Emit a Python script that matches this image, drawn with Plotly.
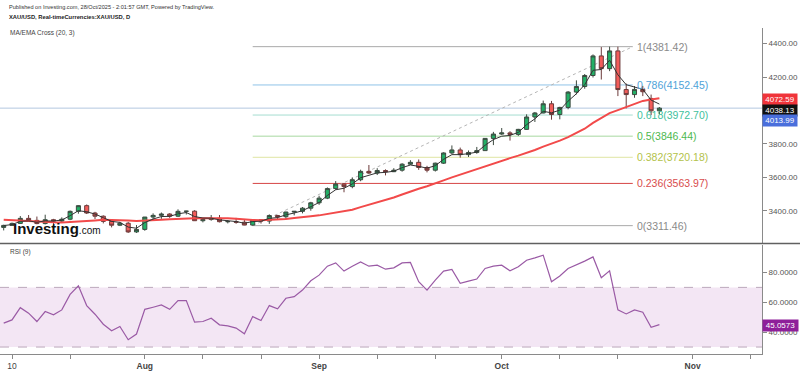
import pandas as pd
import plotly.graph_objects as go

# ---------------- data ----------------
dates = [d.strftime("%Y-%m-%d") for d in pd.bdate_range("2025-07-09", "2025-10-28")]

opens = [3301, 3313, 3325, 3355, 3343, 3324, 3347, 3339, 3350, 3397, 3431, 3387, 3368, 3337, 3314, 3326, 3274,
         3289, 3363, 3373, 3381, 3368, 3397, 3398, 3341, 3348, 3356, 3335, 3336, 3332, 3315, 3347, 3339, 3372, 3365,
         3393, 3397, 3416,
         3448, 3476, 3533, 3560, 3545, 3586, 3636, 3626, 3641, 3634, 3643, 3679, 3690, 3659, 3643, 3685, 3746, 3764,
         3736, 3749, 3760, 3833,
         3859, 3866, 3857, 3887, 3961, 3985, 4040, 3976, 4018, 4110, 4143, 4209, 4326, 4250, 4356, 4125, 4095, 4126,
         4072, 3998]
highs = [3317, 3330, 3369, 3375, 3366, 3377, 3352, 3361, 3402, 3433, 3438, 3394, 3373, 3345, 3334, 3334, 3315,
         3363, 3385, 3390, 3386, 3409, 3400, 3404, 3358, 3375, 3375, 3345, 3358, 3345, 3350, 3351, 3379, 3376, 3394,
         3398, 3423, 3454,
         3490, 3540, 3578, 3565, 3600, 3646, 3674, 3655, 3648, 3655, 3685, 3703, 3707, 3669, 3688, 3750, 3791, 3778,
         3761, 3782, 3835, 3872,
         3895, 3876, 3890, 3977, 3991, 4059, 4057, 4022, 4116, 4180, 4218, 4335, 4379, 4381.42, 4381, 4161, 4146, 4147,
         4095, 4020]
lows = [3283, 3310, 3322, 3340, 3320, 3319, 3310, 3332, 3344, 3383, 3381, 3351, 3325, 3301, 3309, 3268, 3268,
        3281, 3345, 3352, 3358, 3363, 3378, 3340, 3331, 3341, 3331, 3325, 3323, 3314, 3311.46, 3324, 3322, 3351, 3352,
        3373, 3385, 3401,
        3436, 3470, 3526, 3511, 3535, 3577, 3620, 3614, 3612, 3632, 3634, 3675, 3645, 3630, 3635, 3680, 3740, 3718,
        3722, 3741, 3758, 3793,
        3854, 3820, 3848, 3885, 3931, 3983, 3945, 3947, 4007, 4096, 4130, 4197, 4185, 4235, 4086, 4012, 4076, 4086,
        3972, 3978]
closes = [3313, 3325, 3355, 3343, 3324, 3347, 3339, 3350, 3397, 3431, 3387, 3368, 3337, 3314, 3326, 3274, 3289,
          3363, 3373, 3381, 3368, 3397, 3398, 3341, 3348, 3356, 3335, 3336, 3332, 3315, 3347, 3339, 3372, 3365, 3393,
          3397, 3416, 3448,
          3476, 3533, 3560, 3545, 3586, 3636, 3626, 3641, 3634, 3643, 3679, 3690, 3659, 3643, 3685, 3746, 3764, 3736,
          3749, 3760, 3833, 3859,
          3866, 3857, 3887, 3961, 3985, 4040, 3976, 4018, 4110, 4143, 4209, 4326, 4250, 4356, 4125, 4095, 4126, 4112,
          3998, 4013.99]

ma20 = [3347, 3344, 3340, 3338, 3335, 3333, 3332, 3331, 3333, 3338, 3341, 3343, 3346, 3346, 3346, 3342, 3340,
        3341, 3343, 3347, 3350, 3353, 3355, 3355, 3356, 3357, 3357, 3356, 3353, 3347, 3345, 3344, 3345, 3348, 3351,
        3357, 3364, 3368,
        3373, 3381, 3390, 3398, 3407, 3422, 3436, 3450, 3465, 3480, 3498, 3516, 3532, 3547, 3563, 3582, 3600, 3617,
        3634, 3650, 3667, 3684,
        3699, 3715, 3730, 3746, 3764, 3784, 3801, 3820, 3841, 3864, 3891, 3926, 3954, 3984, 4002, 4020, 4039, 4057,
        4065, 4072.59]
ema3 = [3312, 3318, 3337, 3340, 3332, 3340, 3339, 3345, 3371, 3401, 3394, 3381, 3359, 3337, 3331, 3303, 3296,
        3330, 3351, 3366, 3367, 3382, 3390, 3366, 3357, 3356, 3346, 3341, 3336, 3326, 3336, 3338, 3355, 3360, 3376,
        3387, 3401, 3425,
        3450, 3492, 3526, 3535, 3561, 3598, 3612, 3627, 3630, 3637, 3658, 3674, 3666, 3655, 3670, 3708, 3736, 3736,
        3742, 3751, 3792, 3826,
        3846, 3851, 3869, 3915, 3950, 3995, 3986, 4002, 4056, 4100, 4154, 4240, 4245, 4300, 4213, 4154, 4140, 4126,
        4062, 4038.13]
rsi9 = [46.0, 48.2, 56.4, 52.7, 47.1, 53.8, 51.6, 54.9, 65.3, 71.1, 57.8, 52.0, 45.3, 40.9, 43.8, 34.9, 38.7,
        55.3, 56.7, 58.2, 55.3, 61.1, 61.1, 46.7, 47.1, 49.3, 44.9, 44.2, 42.7, 38.9, 50.4, 47.8, 57.8, 55.6, 62.7,
        63.8, 68.2, 74.4,
        78.2, 84.2, 86.4, 80.9, 84.2, 87.1, 84.2, 84.9, 82.2, 83.1, 86.4, 86.7, 73.8, 68.2, 74.9, 80.9, 82.0, 72.7,
        74.2, 75.6, 82.7, 84.2,
        84.9, 81.1, 83.8, 88.2, 89.8, 91.6, 73.8, 77.6, 82.7, 84.9, 87.6, 90.4, 76.5, 81.1, 54.9, 52.2, 54.9, 53.3,
        43.3, 45.0573]

fib_ratios = ["1", "0.786", "0.618", "0.5", "0.382", "0.236", "0"]
fib_levels = [4381.42, 4152.45, 3972.70, 3846.44, 3720.18, 3563.97, 3311.46]
fib_line_colors = ["#a9a9a9", "#8fc3e8", "#a6ddd0", "#a8d8a0", "#dfe5a2", "#d64545", "#a9a9a9"]
fib_text_colors = ["#8a8a8a", "#4ea2d8", "#3fbf9d", "#4db84e", "#b3c24a", "#d84c4c", "#8a8a8a"]
fib_start = "2025-08-20"
fib_end = "2025-10-22 19:00"

price_ticks = [3400, 3600, 3800, 4200, 4400]
rsi_ticks = [40, 60, 80]
x_tickvals = ["2025-07-10", "2025-07-21", "2025-08-01", "2025-08-12", "2025-08-21", "2025-09-01", "2025-09-10",
              "2025-09-19", "2025-10-01", "2025-10-10", "2025-10-21", "2025-11-03", "2025-11-12"]
x_ticktext = ["10", "", "<b>Aug</b>", "", "", "<b>Sep</b>", "", "", "<b>Oct</b>", "", "", "<b>Nov</b>", ""]

last_price = 4013.99
ma_last = 4072.59
ema_last = 4038.13
rsi_last = 45.0573

# ---------------- figure ----------------
FONT = "Liberation Sans, Arial, sans-serif"
H = 356.0  # plot area height in px (margin b=15)


def py(px):
    return 1 - px / H


fig = go.Figure()

fig.add_trace(go.Candlestick(
    x=dates, open=opens, high=highs, low=lows, close=closes,
    xaxis="x2", yaxis="y",
    increasing=dict(fillcolor="#22b066", line=dict(color="#3d4a40", width=1)),
    decreasing=dict(fillcolor="#f25c5a", line=dict(color="#6b3a3a", width=1)),
    whiskerwidth=0, showlegend=False, hoverinfo="skip",
))
fig.add_trace(go.Scatter(x=dates, y=ma20, mode="lines", xaxis="x2", yaxis="y",
                         line=dict(color="#f24a4a", width=2), showlegend=False, hoverinfo="skip"))
fig.add_trace(go.Scatter(x=dates, y=ema3, mode="lines", xaxis="x2", yaxis="y",
                         line=dict(color="#333333", width=1), showlegend=False, hoverinfo="skip"))
fig.add_trace(go.Scatter(x=dates, y=rsi9, mode="lines", xaxis="x", yaxis="y2",
                         line=dict(color="#9a5aa5", width=1.2), showlegend=False, hoverinfo="skip"))

shapes = []
# fib lines
for lvl, col in zip(fib_levels, fib_line_colors):
    shapes.append(dict(type="line", xref="x2", yref="y", x0=fib_start, x1=fib_end, y0=lvl, y1=lvl,
                       line=dict(color=col, width=1), layer="below"))
# dashed trend line
shapes.append(dict(type="line", xref="x2", yref="y", x0=fib_start, x1=fib_end, y0=fib_levels[-1], y1=fib_levels[0],
                   line=dict(color="#b5b5b5", width=1, dash="dot"), layer="below"))
# last price line
shapes.append(dict(type="line", xref="paper", yref="y", x0=0, x1=1, y0=last_price, y1=last_price,
                   line=dict(color="#b3c7e0", width=1), layer="below"))
# RSI band
shapes.append(dict(type="rect", xref="paper", yref="y2", x0=0, x1=1, y0=30, y1=70,
                   fillcolor="#f3e6f4", line=dict(width=0), layer="below"))
for lv in (30, 70):
    shapes.append(dict(type="line", xref="paper", yref="y2", x0=0, x1=1, y0=lv, y1=lv,
                       line=dict(color="#bba8bb", width=1, dash="dash"), layer="below"))
# pane separator
shapes.append(dict(type="line", xref="paper", yref="paper", x0=0, x1=800 / 762, y0=py(245), y1=py(245),
                   line=dict(color="#606060", width=1.5)))

annotations = []
for r, lvl, col in zip(fib_ratios, fib_levels, fib_text_colors):
    annotations.append(dict(xref="x2", yref="y", x=fib_end, y=lvl, xanchor="left", yanchor="middle",
                            text=f"{r}({lvl:.2f})", showarrow=False, xshift=2,
                            font=dict(family=FONT, size=10.5, color=col)))

# right-axis value boxes
for val, bg, shift in [(ma_last, "#f0343a", -1), (ema_last, "#111111", -6), (last_price, "#4a6fdc", -12)]:
    annotations.append(dict(xref="paper", yref="y", x=1, y=val, xanchor="left", yanchor="middle", yshift=shift,
                            text=f"{val:.2f}", showarrow=False, bgcolor=bg, borderpad=1, width=32,
                            font=dict(family=FONT, size=8, color="white")))
annotations.append(dict(xref="paper", yref="y2", x=1, y=rsi_last, xanchor="left", yanchor="middle", yshift=-1,
                        text=f"{rsi_last:.4f}", showarrow=False, bgcolor="#8e1f9a", borderpad=1, width=33,
                        font=dict(family=FONT, size=8, color="white")))

# header texts
annotations += [
    dict(xref="paper", yref="paper", x=7 / 762, y=py(7), xanchor="left", yanchor="middle", showarrow=False,
         text="Published on Investing.com, 28/Oct/2025 - 2:01:57 GMT, Powered by TradingView.",
         font=dict(family=FONT, size=5.6, color="#333")),
    dict(xref="paper", yref="paper", x=7 / 762, y=py(17.5), xanchor="left", yanchor="middle", showarrow=False,
         text="<b>XAU/USD, Real-timeCurrencies:XAU/USD, D</b>", font=dict(family=FONT, size=5.8, color="#222")),
    dict(xref="paper", yref="paper", x=8 / 762, y=py(33), xanchor="left", yanchor="middle", showarrow=False,
         text="MA/EMA Cross (20, 3)", font=dict(family=FONT, size=6.5, color="#444")),
    dict(xref="paper", yref="paper", x=8 / 762, y=py(253), xanchor="left", yanchor="middle", showarrow=False,
         text="RSI (9)", font=dict(family=FONT, size=6.5, color="#444")),
    dict(xref="paper", yref="paper", x=11 / 762, y=py(230), xanchor="left", yanchor="middle", showarrow=False,
         text="<b>Investing</b><span style='font-size:10px;font-weight:normal'>.com</span>",
         font=dict(family=FONT, size=15, color="#111")),
]

x_range = ["2025-07-08 13:18", "2025-11-13 08:40"]
rb = [dict(bounds=["sat", "mon"])]

fig.update_layout(
    width=800, height=371,
    margin=dict(l=0, r=38, t=0, b=15),
    paper_bgcolor="white", plot_bgcolor="white",
    font=dict(family=FONT),
    showlegend=False,
    xaxis=dict(domain=[0, 1], anchor="y2", type="date", range=x_range, rangebreaks=rb,
               tickvals=x_tickvals, ticktext=x_ticktext, ticks="outside", ticklen=4, tickcolor="#888",
               showline=True, linecolor="#8a8a8a", linewidth=1, showgrid=False, zeroline=False,
               tickfont=dict(family=FONT, size=8.5, color="#444"), rangeslider=dict(visible=False)),
    xaxis2=dict(domain=[0, 1], anchor="y", type="date", matches="x", range=x_range, rangebreaks=rb,
                showticklabels=False, showgrid=False, showline=False, zeroline=False, ticks="",
                rangeslider=dict(visible=False)),
    yaxis=dict(domain=[py(244), py(28)], side="right", anchor="x2", range=[3210.0, 4493.9],
               tickvals=price_ticks, tickformat=".2f", ticks="outside", ticklen=4, tickcolor="#888",
               showline=True, linecolor="#8a8a8a", linewidth=1, showgrid=False, zeroline=False,
               tickfont=dict(family=FONT, size=8, color="#555")),
    yaxis2=dict(domain=[0, py(246)], side="right", anchor="x", range=[25.33, 98.67],
                tickvals=rsi_ticks, tickformat=".4f", ticks="outside", ticklen=4, tickcolor="#888",
                showline=True, linecolor="#8a8a8a", linewidth=1, showgrid=False, zeroline=False,
                tickfont=dict(family=FONT, size=8, color="#555")),
    shapes=shapes,
    annotations=annotations,
)

fig.write_html("out.html")
